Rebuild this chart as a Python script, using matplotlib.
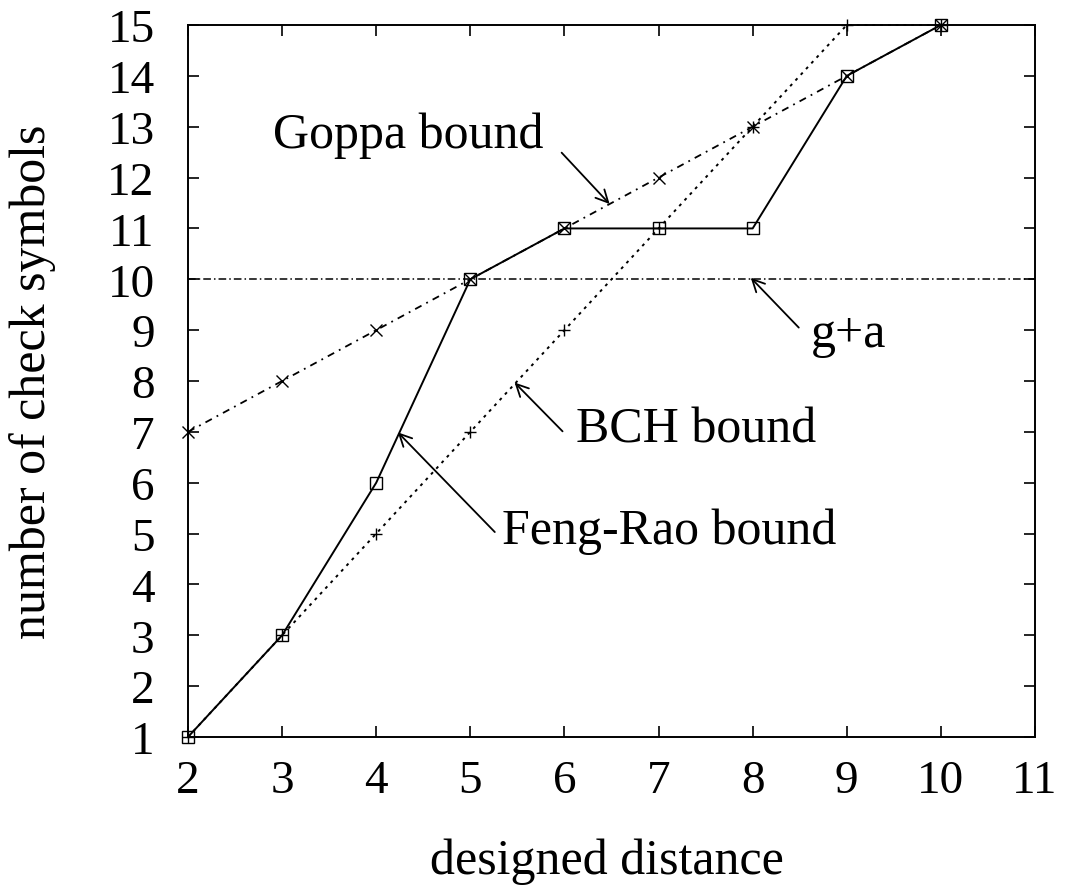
import matplotlib
matplotlib.use("Agg")
import matplotlib.pyplot as plt

plt.rcParams['font.family'] = ['Liberation Serif', 'DejaVu Serif']

# data
d_feng = [2, 3, 4, 5, 6, 7, 8, 9, 10]
feng_rao = [1, 3, 6, 10, 11, 11, 11, 14, 15]
d_bch = [2, 3, 4, 5, 6, 7, 8, 9, 10]
bch = [1, 3, 5, 7, 9, 11, 13, 15, 15]
d_goppa = [2, 3, 4, 5, 6, 7, 8, 9, 10]
goppa = [7, 8, 9, 10, 11, 12, 13, 14, 15]
g_plus_a = 10
xticks = list(range(2, 12))
yticks = list(range(1, 16))

fig = plt.figure(figsize=(10.67, 8.95), dpi=100)
ax = fig.add_axes([188/1067, 1-738/895, (1035-188)/1067, (738-26)/895])

ax.plot(d_bch, bch, color='black', lw=1.4, linestyle=(0, (1.5, 2.5)),
        marker='+', ms=9, mew=1.0, clip_on=False)
ax.plot(d_goppa, goppa, color='black', lw=1.3, linestyle=(0, (4, 3, 1, 3)),
        marker='x', ms=8, mew=1.0, clip_on=False)
ax.axhline(g_plus_a, color='black', lw=1.1, linestyle=(0, (5, 2, 1, 2)))
ax.plot(d_feng, feng_rao, color='black', lw=1.4, linestyle='-',
        marker='s', ms=8, mfc='none', mew=1.0, clip_on=False)

ax.set_xlim(2, 11)
ax.set_ylim(1, 15)
ax.set_xticks(xticks)
ax.set_yticks(yticks)
ax.tick_params(direction='in', length=8, width=1.2, top=True, right=True,
               labelsize=34)
ax.tick_params(axis='x', pad=16)
ax.tick_params(axis='y', pad=24)
for s in ax.spines.values():
    s.set_linewidth(1.4)

ax.set_xlabel('designed distance', fontsize=36)
ax.set_ylabel('number of check symbols', fontsize=36)
ax.xaxis.set_label_coords(0.495, -0.174)
ax.xaxis.label.set_va('center')
ax.yaxis.set_label_coords(-0.183, 0.5)
ax.yaxis.label.set_va('center')

arrow = dict(arrowstyle='->', color='black', lw=1.3,
             mutation_scale=22, shrinkA=0, shrinkB=0)
fs = 36
ax.annotate('', xy=(6.48, 11.48), xytext=(5.97, 12.49), arrowprops=arrow)
ax.text(4.34, 12.85, 'Goppa bound', fontsize=fs, ha='center', va='center')

ax.annotate('', xy=(7.98, 10.03), xytext=(8.49, 9.05), arrowprops=arrow)
ax.text(9.02, 8.93, 'g+a', fontsize=fs, ha='center', va='center')

ax.annotate('', xy=(5.47, 7.97), xytext=(5.98, 7.01), arrowprops=arrow)
ax.text(7.40, 7.05, 'BCH bound', fontsize=fs, ha='center', va='center')

ax.annotate('', xy=(4.23, 6.99), xytext=(5.26, 5.03), arrowprops=arrow)
ax.text(7.11, 5.05, 'Feng-Rao bound', fontsize=fs, ha='center', va='center')

fig.savefig('out.png', dpi=100)
